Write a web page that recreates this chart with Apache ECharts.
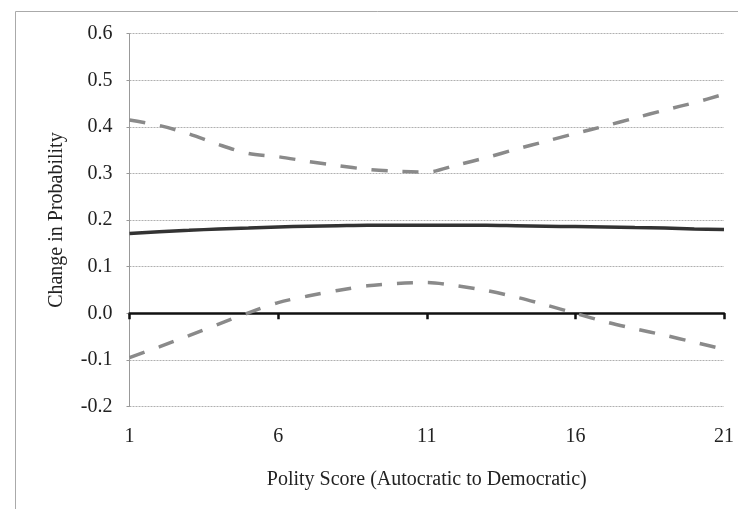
<!DOCTYPE html>
<html>
<head>
<meta charset="utf-8">
<script src="https://cdn.jsdelivr.net/npm/echarts@6/dist/echarts.min.js"></script>
<style>html,body{margin:0;padding:0;background:#fff;}#c{width:738px;height:509px;}</style>
</head>
<body>
<div id="c"></div>
<script>
var categories = ['1','2','3','4','5','6','7','8','9','10','11','12','13','14','15','16','17','18','19','20','21'];
var estimate = [0.171,0.175,0.178,0.181,0.183,0.185,0.187,0.188,0.189,0.189,0.189,0.189,0.189,0.188,0.187,0.186,0.185,0.184,0.183,0.181,0.180];
var upperBound = [0.415,0.403,0.385,0.362,0.343,0.336,0.326,0.317,0.309,0.305,0.303,0.318,0.334,0.352,0.369,0.386,0.402,0.419,0.436,0.452,0.470];
var lowerBound = [-0.095,-0.072,-0.048,-0.023,0.001,0.023,0.037,0.049,0.059,0.064,0.066,0.059,0.049,0.035,0.018,0.000,-0.018,-0.033,-0.047,-0.062,-0.077];
var yTicks = {min: -0.2, max: 0.6, step: 0.1};

var font = 'Liberation Serif';
var chart = echarts.init(document.getElementById('c'), null, {renderer: 'canvas'});
chart.setOption({
  animation: false,
  backgroundColor: '#fff',
  graphic: [{
    type: 'rect', silent: true,
    shape: {x: 15.5, y: 11.5, width: 740, height: 520},
    style: {fill: 'none', stroke: '#aaa', lineWidth: 1}
  }],
  grid: {left: 129.5, right: 14, top: 33.7, bottom: 102.5, containLabel: false},
  xAxis: [{
    type: 'category', data: categories, boundaryGap: false, position: 'bottom',
    axisLine: {show: false, onZero: false},
    axisTick: {show: false},
    splitLine: {show: false},
    axisLabel: {interval: 4, margin: 20, color: '#222', fontFamily: font, fontSize: 20},
    name: 'Polity Score (Autocratic to Democratic)', nameLocation: 'middle', nameGap: 63,
    nameTextStyle: {color: '#222', fontFamily: font, fontSize: 20}
  }, {
    type: 'category', data: categories, boundaryGap: false, position: 'bottom',
    axisLine: {show: true, onZero: true, lineStyle: {color: '#111', width: 2.5}},
    axisTick: {show: true, interval: 4, length: 6, lineStyle: {color: '#111', width: 2.5}},
    axisLabel: {show: false},
    splitLine: {show: false}
  }],
  yAxis: {
    type: 'value', min: yTicks.min, max: yTicks.max, interval: yTicks.step,
    axisLine: {show: true, lineStyle: {color: '#999', width: 1}},
    axisTick: {show: true, length: 3, lineStyle: {color: '#999'}},
    splitLine: {show: true, lineStyle: {color: '#b0b0b0', width: 1, type: [2, 1]}},
    axisLabel: {margin: 17, color: '#222', fontFamily: font, fontSize: 20,
      formatter: function (v) { return v.toFixed(1); }},
    name: 'Change in Probability', nameLocation: 'middle', nameGap: 63,
    nameTextStyle: {color: '#222', fontFamily: font, fontSize: 20}
  },
  series: [{
    type: 'line', data: upperBound, xAxisIndex: 0, symbol: 'none', smooth: 0.3,
    lineStyle: {color: '#8a8a8a', width: 3.5, type: [16, 15]}, z: 3
  }, {
    type: 'line', data: lowerBound, xAxisIndex: 0, symbol: 'none', smooth: 0.3,
    lineStyle: {color: '#8a8a8a', width: 3.5, type: [16, 15]}, z: 3
  }, {
    type: 'line', data: estimate, xAxisIndex: 0, symbol: 'none', smooth: 0.3,
    lineStyle: {color: '#333', width: 3.5}, z: 4
  }]
});
</script>
</body>
</html>
